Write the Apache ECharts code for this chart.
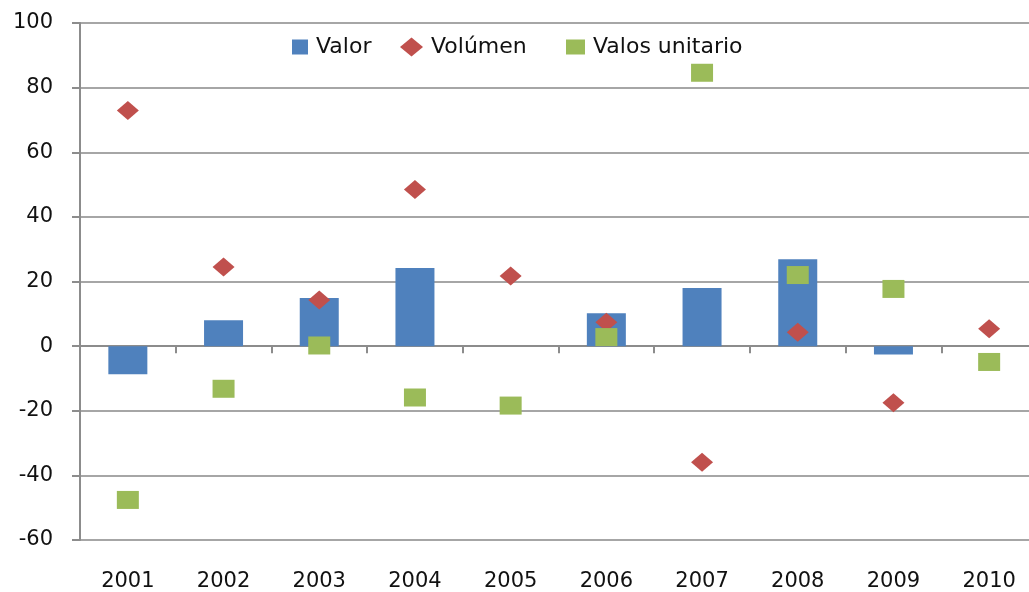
<!DOCTYPE html>
<html>
<head>
<meta charset="utf-8">
<script src="https://cdn.jsdelivr.net/npm/echarts@6/dist/echarts.min.js"></script>
<style>
  html, body { margin: 0; padding: 0; background: #fff; overflow: hidden; }
  /* the original plot runs past the right edge of the picture */
  #chart { width: 1037px; height: 592px; }
</style>
</head>
<body>
<div id="chart"></div>
<script>
// data
var years = ['2001', '2002', '2003', '2004', '2005', '2006', '2007', '2008', '2009', '2010'];
var valor = [-8.7, 8, 14.9, 24.2, 0, 10.2, 18, 26.9, -2.6, 0];
var volumen = [72.9, 24.5, 14.3, 48.5, 21.7, 7.4, -35.9, 4.3, -17.5, 5.4];
var valosUnitario = [-47.6, -13.2, 0.2, -15.9, -18.4, 2.8, 84.6, 22, 17.7, -4.9];
var yTicks = [-60, -40, -20, 0, 20, 40, 60, 80, 100];

var font = 'DejaVu Sans';
var gray = '#8c8c8c';
var ink = '#111';

// one legend per entry so each key gets its own size/spot
function legendItem(name, icon, left, top, w, h) {
    return {
        data: [{ name: name, icon: icon }],
        left: left,
        top: top,
        itemWidth: w,
        itemHeight: h,
        textStyle: { fontFamily: font, fontSize: 22, color: ink, padding: [0, 0, 0, 3] }
    };
}

var chart = echarts.init(document.getElementById('chart'));
chart.setOption({
    animation: false,
    textStyle: { fontFamily: font },
    grid: { left: 80, top: 23, bottom: 50, right: 0, containLabel: false },
    legend: [
        legendItem('Valor', 'rect', 287, 31, 16, 15),
        legendItem('Volúmen', 'diamond', 395, 31, 23, 19),
        legendItem('Valos unitario', 'rect', 561, 31, 19, 15)
    ],
    xAxis: [{
        type: 'category',
        data: years,
        axisLine: { onZero: true, lineStyle: { color: gray, width: 2 } },
        axisTick: { show: true, length: 7, lineStyle: { color: gray, width: 2 } },
        axisLabel: { show: false },
        splitLine: { show: false }
    }, {
        type: 'category',
        data: years,
        position: 'bottom',
        axisLine: { show: false, onZero: false },
        axisTick: { show: false },
        axisLabel: { margin: 31, fontFamily: font, fontSize: 21, color: ink },
        splitLine: { show: false }
    }],
    yAxis: {
        type: 'value',
        min: yTicks[0],
        max: yTicks[yTicks.length - 1],
        interval: 20,
        axisLine: { show: true, lineStyle: { color: gray, width: 2 } },
        axisTick: { show: true, length: 8, lineStyle: { color: gray, width: 2 } },
        axisLabel: { margin: 27, fontFamily: font, fontSize: 21, color: ink },
        splitLine: { lineStyle: { color: '#a6a6a6', width: 2 } }
    },
    series: [{
        name: 'Valor',
        type: 'bar',
        data: valor,
        barWidth: 39,
        itemStyle: { color: '#4F81BD' }
    }, {
        name: 'Volúmen',
        type: 'scatter',
        data: volumen,
        symbol: 'diamond',
        symbolSize: [22, 19],
        itemStyle: { color: '#C0504D', opacity: 1 }
    }, {
        name: 'Valos unitario',
        type: 'scatter',
        data: valosUnitario,
        symbol: 'rect',
        symbolSize: [22, 18],
        itemStyle: { color: '#9BBB59', opacity: 1 }
    }]
});
</script>
</body>
</html>
